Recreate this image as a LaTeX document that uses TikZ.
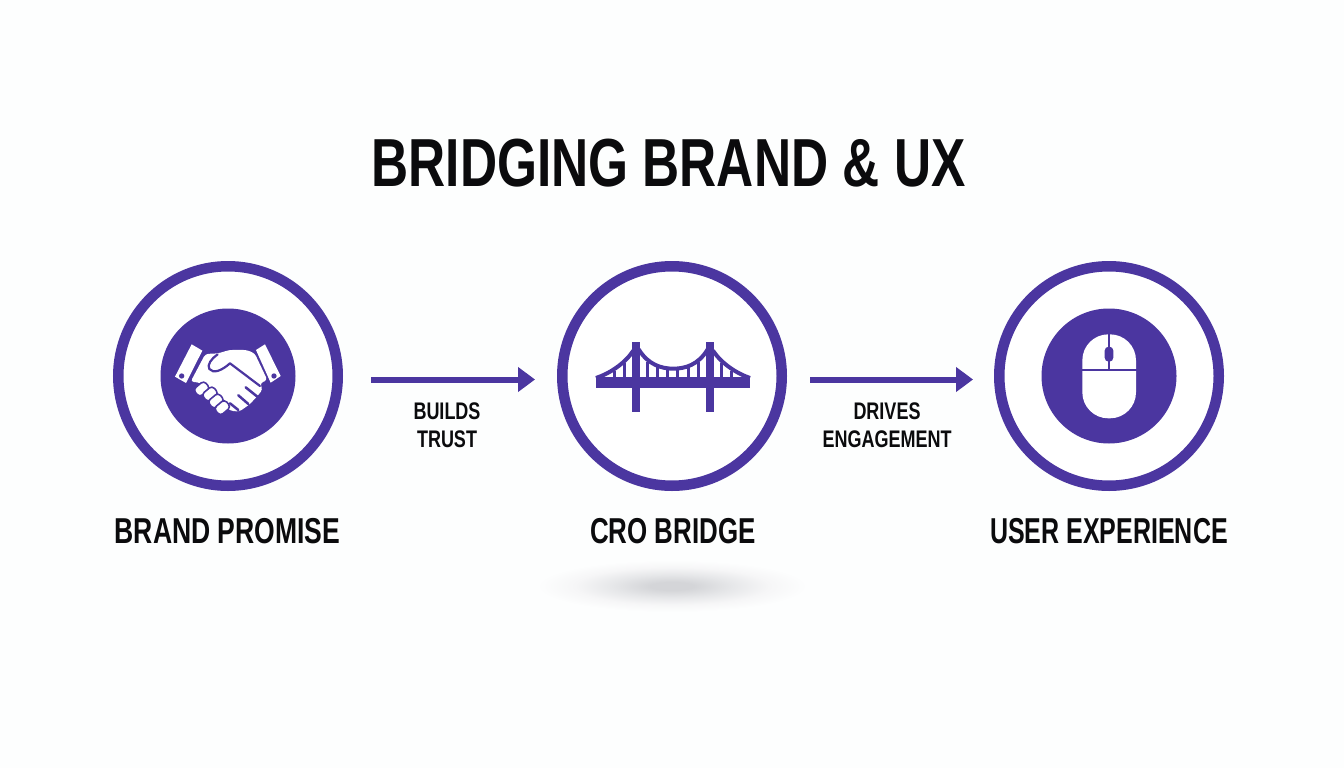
\documentclass[tikz,border=0pt]{standalone}
\usepackage{fontspec}
\setmainfont[FakeStretch=0.75]{Liberation Sans}
\usetikzlibrary{arrows.meta}
\definecolor{brandpurple}{HTML}{4B36A0}
\definecolor{inkblack}{HTML}{0B0B0D}
\definecolor{paper}{HTML}{FDFEFE}
\definecolor{shadecore}{HTML}{D4D5D8}
\definecolor{shademid}{HTML}{E6E7E9}
\definecolor{shadelow}{HTML}{F6F6F7}
\pgfdeclareradialshading{softshadow}{\pgfpoint{0bp}{0bp}}{%
  color(0bp)=(shadecore);color(4bp)=(shadecore);color(11bp)=(shademid);color(18bp)=(shadelow);color(25bp)=(paper);color(50bp)=(paper)}
\tikzset{
  ring/.style={circle,draw=brandpurple,line width=10.5pt,fill=white,minimum size=219.5pt,inner sep=0pt},
  disc/.style={circle,fill=brandpurple,minimum size=135pt,inner sep=0pt},
  flow/.style={draw=brandpurple,line width=6pt,-{Triangle[length=17pt,width=24pt]},shorten >=0pt},
  titletext/.style={font=\fontsize{68}{72}\selectfont\bfseries,text=inkblack,inner sep=0pt},
  labeltext/.style={font=\fontsize{36}{40}\selectfont\bfseries,text=inkblack,inner sep=0pt},
  smalltext/.style={font=\fontsize{24}{27.5}\selectfont\bfseries,text=inkblack,inner sep=0pt,align=center},
  fingergap/.style={draw=brandpurple,line width=2.5pt,line cap=round},
  fingertip/.style={draw=brandpurple,fill=white,line width=1.6pt,rounded corners=3.6pt},
  cable/.style={draw=brandpurple,line width=4pt,line cap=butt},
}
\begin{document}
\begin{tikzpicture}[x=1pt,y=-1pt]
\useasboundingbox (0,0) rectangle (1344,768);
\fill[paper] (0,0) rectangle (1344,768);
% soft shadow
\shade[shading=softshadow] (672,586) ellipse [x radius=135,y radius=26];
% title
\node[titletext] (title) at (668.5,163) {\scalebox{1.008}[1]{BRIDGING BRAND \& UX}};
% rings
\node[ring] (r1) at (228,376) {};
\node[ring] (r2) at (672,376) {};
\node[ring] (r3) at (1109,376) {};
\node[disc] (d1) at (228,376) {};
\node[disc] (d3) at (1109,376) {};
% handshake
\begin{scope}[shift={(150,300)},x=0.3333pt,y=-0.3333pt]
  \fill[white] (125,133) -- (157,152) -- (108,249) -- (75,230) -- cycle;
  \fill[brandpurple] (95,228) circle [radius=8];
  \fill[white] (345,133) -- (318,150) -- (362,248) -- (392,228) -- cycle;
  \fill[brandpurple] (372,228) circle [radius=8];
  \fill[white,rounded corners=3pt] (166,162) -- (205,160) -- (238,150) -- (290,150) -- (314,160) -- (352,240) -- (330,250) -- (338,268) -- (325,285) -- (300,312) -- (268,335) -- (240,332) -- (200,290) -- (150,248) -- (122,245) -- cycle;
  \draw[brandpurple,line width=2.2pt,line cap=round,line join=round] (203,163) .. controls (185,175) and (170,195) .. (178,207) .. controls (190,222) and (215,212) .. (240,190) -- (330,258);
  \draw[fingergap] (287,262) -- (322,290);
  \draw[fingergap] (265,286) -- (295,312);
  \draw[fingergap] (240,310) -- (265,330);
  \foreach \cx/\cy in {155/267,180/282,198/303,217/323}{
    \draw[fingertip,rotate around={-50:(\cx,\cy)}] (\cx-15,\cy-21) rectangle (\cx+15,\cy+21);
  }
\end{scope}
% bridge
\begin{scope}[shift={(580,320)},x=0.3333pt,y=-0.3333pt]
  \fill[brandpurple] (48,170) rectangle (510,205);
  \fill[brandpurple] (156,67) rectangle (181,277);
  \fill[brandpurple] (378,67) rectangle (403,277);
  \draw[cable] (176,88) .. controls (205,135) and (245,146) .. (280,146) .. controls (315,146) and (355,135) .. (383,88);
  \draw[cable] (160,92) .. controls (135,130) and (90,160) .. (48,174);
  \draw[cable] (399,92) .. controls (424,130) and (469,160) .. (510,174);
  \foreach \hx/\hy in {104/152,133/130,202/125,232/142,262/150,293/150,325/142,355/125,425/130,455/152}{
    \fill[brandpurple] (\hx-5,\hy) rectangle (\hx+5,175);
  }
\end{scope}
% mouse
\begin{scope}[shift={(1030,300)},x=0.3333pt,y=-0.3333pt]
  \fill[white,rounded corners=26pt] (157,103) rectangle (318,355);
  \fill[brandpurple] (150,208) rectangle (325,214);
  \fill[brandpurple] (234,100) rectangle (240,211);
  \fill[brandpurple,rounded corners=4pt] (224,140) rectangle (250,185);
\end{scope}
% connectors
\coordinate (a1s) at (371,379.5);
\coordinate (a1e) at (535,379.5);
\coordinate (a2s) at (810,379.5);
\coordinate (a2e) at (973,379.5);
\draw[flow] (a1s) -- (a1e);
\draw[flow] (a2s) -- (a2e);
% labels
\node[labeltext] (l1) at (227.5,531) {\scalebox{0.983}[1]{BRAND PROMISE}};
\node[labeltext] (l2) at (673,531) {\scalebox{0.96}[1]{CRO BRIDGE}};
\node[labeltext] (l3) at (1109,531) {\scalebox{0.926}[1]{USER EXPERIENCE}};
\node[smalltext] (c1) at (447,425) {BUILDS\\TRUST};
\node[smalltext] (c2) at (887,425) {DRIVES\\ENGAGEMENT};
\end{tikzpicture}
\end{document}
